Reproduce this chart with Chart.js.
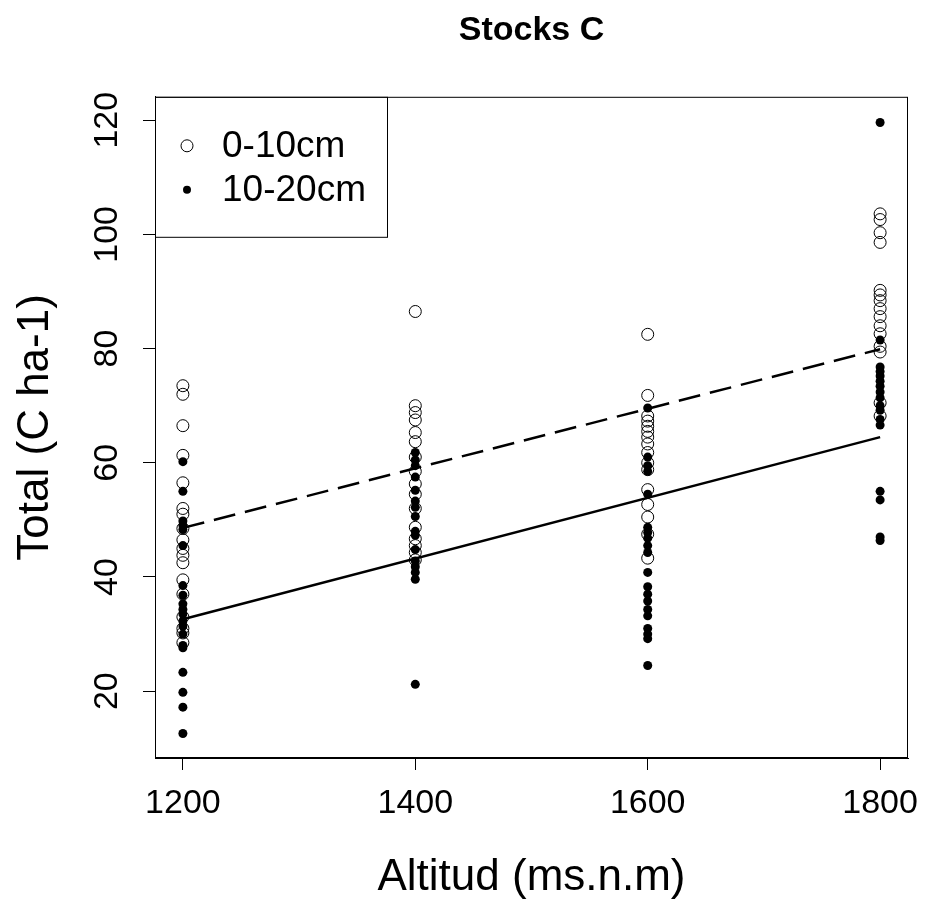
<!DOCTYPE html>
<html>
<head>
<meta charset="utf-8">
<script src="https://cdn.jsdelivr.net/npm/chart.js@4.4.1/dist/chart.umd.min.js"></script>
<style>
  html, body { margin: 0; padding: 0; background: #fff; }
  #wrap { width: 928px; height: 904px; }
</style>
</head>
<body>
<div id="wrap"><canvas id="stocks" width="928" height="904"></canvas></div>
<script>
// altitudes (ms.n.m)
const altitudes = [1200, 1400, 1600, 1800];
const xTicks = [1200, 1400, 1600, 1800];
const yTicks = [20, 40, 60, 80, 100, 120];

// 0-10cm (open circles)
const top1200 = [73.5, 72, 66.5, 61.3, 56.5, 52, 51, 48.5, 46.5, 45, 43.8, 42.5, 39.5, 37, 33, 31, 30.2, 28.5];
const top1400 = [86.5, 70, 68.8, 67.5, 65.3, 63.7, 61, 58.5, 56.3, 54.5, 52, 48.7, 46.7, 45.5, 44.3, 43];
const top1600 = [82.5, 71.8, 68.2, 67.3, 66.4, 65.5, 64.5, 63.3, 61.8, 60, 58.8, 55.3, 52.7, 50.5, 47.5, 43.3];
const top1800 = [103.6, 102.6, 100.3, 98.6, 90.2, 89.4, 88.4, 87, 85.6, 84, 82.6, 80.4, 79.4, 70.5, 68.2];

// 10-20cm (filled dots)
const sub1200 = [60.2, 55, 49.8, 49, 48.3, 45.5, 38.5, 36.8, 35.3, 34.3, 33.5, 32.3, 31.4, 30, 28, 27.6, 23.3, 19.8, 17.2, 12.6];
const sub1400 = [61.8, 60.5, 59.5, 57.5, 55.2, 53.3, 52.2, 50.6, 48, 47.3, 44.8, 42.8, 41.8, 40.8, 39.6, 21.2];
const sub1600 = [69.6, 61, 59.5, 58.5, 54.5, 48.7, 47.8, 46.8, 45.5, 44.3, 40.8, 38.3, 37, 35.8, 34.3, 33.2, 31, 30, 29.2, 24.5];
const sub1800 = [119.6, 81.5, 76.8, 76, 75.2, 74.3, 73.4, 72.4, 71.4, 70, 69.2, 67.6, 66.6, 55, 53.5, 47, 46.4];

// fitted lines (ends)
const fitX = [1200, 1800];
const fitTop = [48.6, 79.9];
const fitSub = [32.6, 64.5];

const FONT = '"Liberation Sans", Arial, sans-serif';
Chart.defaults.font.family = FONT;
Chart.defaults.color = '#000';

function toPoints(groups) {
  let pts = [];
  groups.forEach((vals, i) => {
    vals.forEach(v => pts.push({ x: altitudes[i], y: v }));
  });
  return pts;
}

const topPts = toPoints([top1200, top1400, top1600, top1800]);
const subPts = toPoints([sub1200, sub1400, sub1600, sub1800]);

const rStyle = {
  id: 'rStyle',
  afterDraw(chart) {
    const ctx = chart.ctx;
    const area = chart.chartArea;
    const y = chart.scales.y;
    ctx.save();
    // box round the plot
    ctx.strokeStyle = '#000';
    ctx.lineWidth = 1;
    ctx.strokeRect(area.left + 0.5, area.top + 0.5, area.right - area.left - 1, area.bottom - area.top - 1);

    // vertical y tick labels, R style
    ctx.fillStyle = '#000';
    ctx.font = '34px ' + FONT;
    ctx.textAlign = 'center';
    ctx.textBaseline = 'middle';
    y.ticks.forEach(t => {
      const py = y.getPixelForValue(t.value);
      ctx.save();
      ctx.translate(area.left - 47, py);
      ctx.rotate(-Math.PI / 2);
      ctx.fillText(String(t.value), 0, 0);
      ctx.restore();
    });

    // legend in top-left corner
    const lx = area.left, ly = area.top;
    ctx.fillStyle = '#fff';
    ctx.fillRect(lx + 1, ly + 1, 231, 139);
    ctx.strokeRect(lx + 0.5, ly + 0.5, 232, 140);
    ctx.fillStyle = '#000';
    ctx.beginPath();
    ctx.arc(lx + 32, ly + 49, 6, 0, Math.PI * 2);
    ctx.stroke();
    ctx.beginPath();
    ctx.arc(lx + 32, ly + 93, 4, 0, Math.PI * 2);
    ctx.fill();
    ctx.textAlign = 'left';
    ctx.font = '37px ' + FONT;
    ctx.fillText('0-10cm', lx + 67, ly + 50);
    ctx.fillText('10-20cm', lx + 67, ly + 94);
    ctx.restore();
  }
};

new Chart(document.getElementById('stocks'), {
  type: 'scatter',
  data: {
    datasets: [
      {
        label: '0-10cm',
        data: topPts,
        pointRadius: 6,
        pointBorderWidth: 1,
        pointBorderColor: '#000',
        pointBackgroundColor: 'rgba(0,0,0,0)'
      },
      {
        label: '10-20cm',
        data: subPts,
        pointRadius: 4.5,
        pointBorderWidth: 0,
        pointBackgroundColor: '#000'
      },
      {
        type: 'line',
        label: 'fit 0-10',
        data: fitX.map((x, i) => ({ x: x, y: fitTop[i] })),
        borderColor: '#000',
        borderWidth: 2.5,
        borderDash: [22, 10],
        pointRadius: 0,
        fill: false
      },
      {
        type: 'line',
        label: 'fit 10-20',
        data: fitX.map((x, i) => ({ x: x, y: fitSub[i] })),
        borderColor: '#000',
        borderWidth: 2.5,
        pointRadius: 0,
        fill: false
      }
    ]
  },
  options: {
    responsive: false,
    animation: false,
    layout: { padding: { top: 0, right: 20, bottom: 0, left: 0 } },
    plugins: {
      legend: { display: false },
      tooltip: { enabled: false },
      title: {
        display: true,
        text: 'Stocks C',
        fullSize: false,
        color: '#000',
        font: { size: 34, weight: 'bold' },
        padding: { top: 10, bottom: 46 }
      }
    },
    scales: {
      x: {
        type: 'linear',
        min: 1176,
        max: 1824,
        afterBuildTicks: s => { s.ticks = xTicks.map(v => ({ value: v })); },
        afterFit: s => { s.height = 146; s.paddingLeft = 0; s.paddingRight = 0; },
        grid: { drawOnChartArea: false, drawTicks: true, tickLength: 12, color: '#000' },
        border: { display: true, color: '#000' },
        ticks: { font: { size: 34 }, padding: 13, color: '#000', callback: v => String(v) },
        title: { display: true, text: 'Altitud (ms.n.m)', font: { size: 44 }, padding: { top: 0, bottom: 0 }, color: '#000' }
      },
      y: {
        type: 'linear',
        min: 8.3,
        max: 124.1,
        afterBuildTicks: s => { s.ticks = yTicks.map(v => ({ value: v })); },
        afterFit: s => { s.width = 155; s.paddingTop = 0; s.paddingBottom = 0; },
        grid: { drawOnChartArea: false, drawTicks: true, tickLength: 12, color: '#000' },
        border: { display: true, color: '#000' },
        ticks: { display: false },
        title: { display: true, text: 'Total (C ha-1)', font: { size: 44 }, padding: { top: 9, bottom: 0 }, color: '#000' }
      }
    }
  },
  plugins: [rStyle]
});
</script>
</body>
</html>
